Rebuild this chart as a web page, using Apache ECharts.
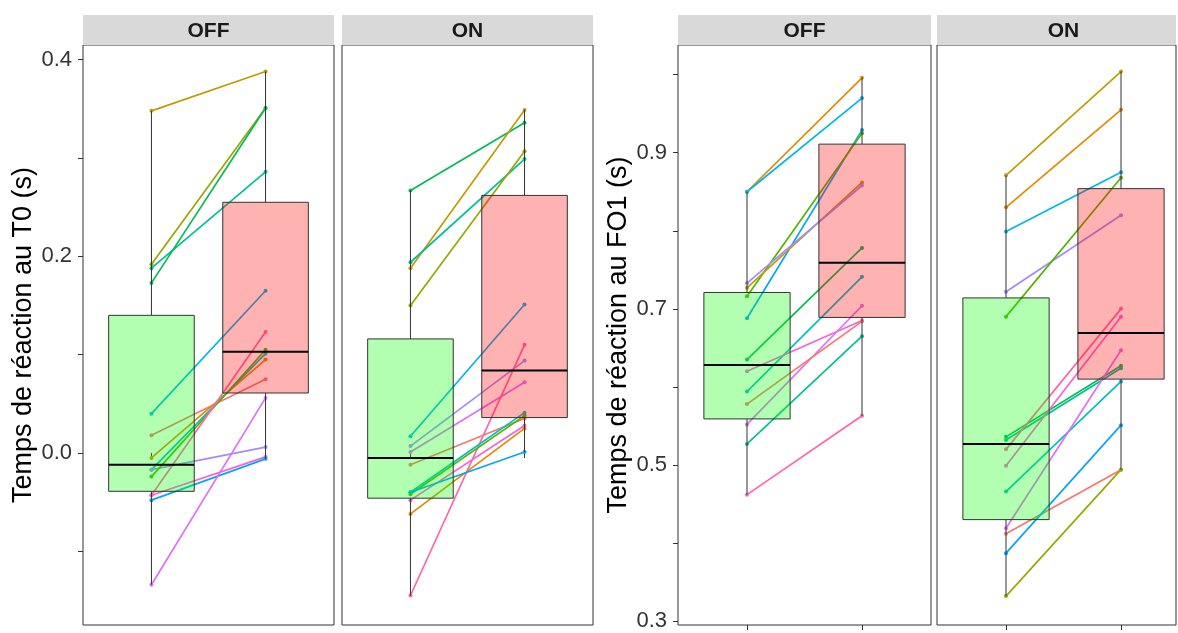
<!DOCTYPE html>
<html><head><meta charset="utf-8">
<script src="https://cdn.jsdelivr.net/npm/echarts@6/dist/echarts.min.js"></script>
<style>html,body{margin:0;padding:0;background:#fff}#c{width:1178px;height:633px}</style>
</head><body><div id="c"></div>
<script>
// ---------- data ----------
const facetLabels = ['OFF', 'ON', 'OFF', 'ON'];
const conditionPos = [1, 2];               // OFF, ON positions on each facet x axis
const leftTitle = 'Temps de réaction au T0 (s)';
const rightTitle = 'Temps de réaction au FO1 (s)';
const leftTickLabels = [0.0, 0.2, 0.4];
const leftTickMarks = [-0.1, 0.0, 0.1, 0.2, 0.3, 0.4];
const rightTickLabels = [0.3, 0.5, 0.7, 0.9];
const rightTickMarks = [0.3, 0.4, 0.5, 0.6, 0.7, 0.8, 0.9, 1.0];

// Panel 1: T0, facet OFF
const p1Off = [0.348, 0.192, 0.188, 0.173, 0.040, 0.018, -0.005, -0.017, -0.017, -0.024, -0.043, -0.043, -0.048, -0.134];
const p1On  = [0.388, 0.351, 0.286, 0.351, 0.165, 0.075, 0.095, 0.101, 0.006, 0.105, 0.123, -0.004, -0.006, 0.056];
const p1Col = ['#C49A00', '#99A800', '#00C094', '#00BC56', '#00B6EB', '#F8766D', '#E38900', '#00BFC4', '#A58AFF', '#53B400', '#FF66A8', '#FB61D7', '#06A4FF', '#DF70F8'];
const p1BoxOff = [-0.134, -0.039, -0.012, 0.140, 0.348];
const p1BoxOn  = [-0.006, 0.061, 0.103, 0.255, 0.388];

// Panel 2: T0, facet ON
const p2Off = [0.267, 0.188, 0.194, 0.150, 0.017, 0.007, 0.001, -0.012, -0.145, -0.040, -0.042, -0.048, -0.062, -0.040];
const p2On  = [0.336, 0.349, 0.299, 0.307, 0.151, 0.094, 0.072, 0.035, 0.110, 0.041, 0.038, 0.028, 0.025, 0.001];
const p2Col = ['#00BC56', '#C49A00', '#00C094', '#99A800', '#00B6EB', '#A58AFF', '#DF70F8', '#F8766D', '#FF66A8', '#00BFC4', '#53B400', '#FB61D7', '#E38900', '#06A4FF'];
const p2BoxOff = [-0.145, -0.046, -0.005, 0.116, 0.267];
const p2BoxOn  = [0.001, 0.036, 0.084, 0.262, 0.349];

// Panel 3: FO1, facet OFF
const p3Off = [0.850, 0.850, 0.688, 0.716, 0.727, 0.733, 0.635, 0.594, 0.620, 0.552, 0.578, 0.527, 0.462];
const p3On  = [0.996, 0.970, 0.929, 0.925, 0.862, 0.858, 0.778, 0.741, 0.685, 0.704, 0.684, 0.665, 0.563];
const p3Col = ['#E38900', '#00B6EB', '#06A4FF', '#53B400', '#C49A00', '#A58AFF', '#00BC56', '#00BFC4', '#FB61D7', '#DF70F8', '#F8766D', '#00C094', '#FF66A8'];
const p3BoxOff = [0.462, 0.559, 0.628, 0.721, 0.850];
const p3BoxOn  = [0.563, 0.689, 0.759, 0.911, 0.996];

// Panel 4: FO1, facet ON
const p4Off = [0.871, 0.830, 0.799, 0.722, 0.690, 0.536, 0.532, 0.520, 0.499, 0.466, 0.419, 0.412, 0.387, 0.332];
const p4On  = [1.004, 0.955, 0.875, 0.820, 0.868, 0.627, 0.624, 0.700, 0.690, 0.607, 0.647, 0.494, 0.551, 0.494];
const p4Col = ['#C49A00', '#E38900', '#00B6EB', '#A58AFF', '#53B400', '#00BC56', '#00C094', '#FF66A8', '#FB61D7', '#00BFC4', '#DF70F8', '#F8766D', '#06A4FF', '#99A800'];
const p4BoxOff = [0.332, 0.430, 0.527, 0.714, 0.871];
const p4BoxOn  = [0.494, 0.610, 0.669, 0.854, 1.004];

// ---------- layout ----------
// full facet width is ~2.2 category units; the last facet is cut by the picture edge
const panels = [
  {left: 83,  width: 251, full: 251, off: p1Off, on: p1On, col: p1Col, boxOff: p1BoxOff, boxOn: p1BoxOn, ymin: -0.175, ymax: 0.415, axis: 'left'},
  {left: 342, width: 251, full: 251, off: p2Off, on: p2On, col: p2Col, boxOff: p2BoxOff, boxOn: p2BoxOn, ymin: -0.175, ymax: 0.415, axis: null},
  {left: 678, width: 253, full: 253, off: p3Off, on: p3On, col: p3Col, boxOff: p3BoxOff, boxOn: p3BoxOn, ymin: 0.295, ymax: 1.038, axis: 'right'},
  {left: 937, width: 239, full: 253, off: p4Off, on: p4On, col: p4Col, boxOff: p4BoxOff, boxOn: p4BoxOn, ymin: 0.295, ymax: 1.038, axis: null}
];
const TOP = 45, HEIGHT = 580, STRIP = 30;
const FONT = 'Liberation Sans, Arial, sans-serif';

const grid = [], xAxis = [], yAxis = [], series = [], graphic = [];

function renderBox(params, api) {
  const x = api.value(0);
  const lo = api.value(1), q1 = api.value(2), med = api.value(3), q3 = api.value(4), hi = api.value(5);
  const pTop = api.coord([x, q3]), pBot = api.coord([x, q1]);
  const pMin = api.coord([x, lo]), pMax = api.coord([x, hi]), pMed = api.coord([x, med]);
  const half = api.size([0.375, 0])[0];
  const fill = x === 1 ? 'rgba(0,255,0,0.3)' : 'rgba(255,0,0,0.3)';
  return {type: 'group', children: [
    {type: 'line', shape: {x1: pMax[0], y1: pMax[1], x2: pTop[0], y2: pTop[1]}, style: {stroke: '#333', lineWidth: 1}},
    {type: 'line', shape: {x1: pBot[0], y1: pBot[1], x2: pMin[0], y2: pMin[1]}, style: {stroke: '#333', lineWidth: 1}},
    {type: 'rect', shape: {x: pTop[0] - half, y: pTop[1], width: 2 * half, height: pBot[1] - pTop[1]}, style: {fill: fill, stroke: '#333', lineWidth: 1}},
    {type: 'line', shape: {x1: pMed[0] - half, y1: pMed[1], x2: pMed[0] + half, y2: pMed[1]}, style: {stroke: '#000', lineWidth: 2}}
  ]};
}

panels.forEach((p, i) => {
  const unit = p.full / 2.2;
  grid.push({left: p.left, top: TOP, width: p.width, height: HEIGHT, show: true,
    backgroundColor: '#fff', borderColor: '#333', borderWidth: 1, containLabel: false});
  xAxis.push({type: 'value', gridIndex: i, min: 0.4, max: 0.4 + p.width / unit,
    axisLine: {show: false}, splitLine: {show: false}, axisLabel: {show: false},
    axisTick: {show: true, customValues: conditionPos, length: 5, lineStyle: {color: '#333'}}});
  const isLeft = p.axis === 'left', isRight = p.axis === 'right';
  yAxis.push({type: 'value', gridIndex: i, min: p.ymin, max: p.ymax,
    axisLine: {show: false}, splitLine: {show: false},
    name: isLeft ? leftTitle : (isRight ? rightTitle : ''),
    nameLocation: 'middle', nameGap: 44, nameRotate: 90,
    nameTextStyle: {fontSize: 27, color: '#000', fontFamily: FONT},
    axisTick: {show: !!p.axis, customValues: isLeft ? leftTickMarks : rightTickMarks, length: 5, lineStyle: {color: '#333'}},
    axisLabel: {show: !!p.axis, customValues: isLeft ? leftTickLabels : rightTickLabels,
      formatter: v => v.toFixed(1), fontSize: 22, color: '#333', fontFamily: FONT, margin: 11}});
  p.off.forEach((v, k) => {
    series.push({type: 'line', xAxisIndex: i, yAxisIndex: i,
      data: [[conditionPos[0], v], [conditionPos[1], p.on[k]]],
      symbol: 'circle', symbolSize: 4, silent: true, animation: false, z: 2,
      lineStyle: {color: p.col[k], width: 1.7}, itemStyle: {color: p.col[k]}});
  });
  series.push({type: 'custom', xAxisIndex: i, yAxisIndex: i, renderItem: renderBox,
    z: 5, silent: true, animation: false,
    data: [[conditionPos[0]].concat(p.boxOff), [conditionPos[1]].concat(p.boxOn)]});
  graphic.push({type: 'rect', x: p.left, y: TOP - STRIP, shape: {x: 0, y: 0, width: p.width, height: STRIP},
    style: {fill: '#D9D9D9'}, silent: true});
  graphic.push({type: 'text', x: p.left + p.full / 2, y: TOP - STRIP / 2 + 1,
    style: {text: facetLabels[i], fontSize: 21, fontWeight: 'bold', fill: '#1a1a1a', fontFamily: FONT,
      align: 'center', verticalAlign: 'middle'}, silent: true});
});

const chart = echarts.init(document.getElementById('c'), null, {renderer: 'canvas'});
chart.setOption({animation: false, backgroundColor: '#fff', grid, xAxis, yAxis, series, graphic});
</script></body></html>
